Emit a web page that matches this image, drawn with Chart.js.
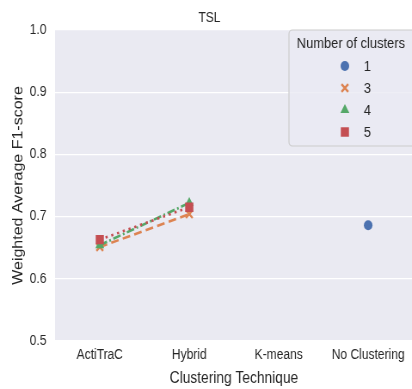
<!DOCTYPE html>
<html>
<head>
<meta charset="utf-8">
<script src="https://cdn.jsdelivr.net/npm/chart.js@4/dist/chart.umd.min.js"></script>
<style>
  html, body { margin: 0; padding: 0; background: #ffffff; overflow: hidden; }
  #wrap { width: 412px; height: 389px; overflow: hidden; }
  /* the figure is drawn a little wider and compressed horizontally */
  #c { transform: scaleX(0.86); transform-origin: 0 0; display: block; }
</style>
</head>
<body>
<div id="wrap"><canvas id="c" width="488" height="389"></canvas></div>
<script>
// Clustering techniques on the x axis
const techniques = ['ActiTraC', 'Hybrid', 'K-means', 'No Clustering'];

// Weighted average F1-score per number of clusters (null = not evaluated)
const clusters1 = [null, null, null, 0.686];
const clusters3 = [0.651, 0.704, null, null];
const clusters4 = [0.654, 0.722, null, null];
const clusters5 = [0.663, 0.715, null, null];

const yTicks = [0.5, 0.6, 0.7, 0.8, 0.9, 1.0];

const FONT = '"Liberation Sans", Arial, sans-serif';
const TEXT = '#262626';

const seriesDefs = [
  { label: '1', data: clusters1, color: '#4c72b0', style: 'circle',   radius: 5,   dash: [],           order: 4 },
  { label: '3', data: clusters3, color: '#dd8452', style: 'crossRot', radius: 5.5, dash: [9, 5],       order: 3 },
  { label: '4', data: clusters4, color: '#55a868', style: 'triangle', radius: 6,   dash: [9, 3, 2, 3], order: 2 },
  { label: '5', data: clusters5, color: '#c44e52', style: 'rect',     radius: 6.7, dash: [2.5, 4.5],   order: 1 }
];

const datasets = seriesDefs.map(s => ({
  label: s.label,
  data: s.data,
  borderColor: s.color,
  backgroundColor: s.color,
  pointBackgroundColor: s.color,
  pointBorderColor: s.color,
  pointStyle: s.style,
  pointRadius: s.radius,
  pointBorderWidth: s.style === 'crossRot' ? 2.4 : 0,
  borderWidth: 2.6,
  borderDash: s.dash,
  spanGaps: false,
  tension: 0,
  order: s.order
}));

// Grey plotting panel
const panelBackground = {
  id: 'panelBackground',
  beforeDraw(chart) {
    const { ctx, chartArea: a } = chart;
    ctx.save();
    ctx.fillStyle = '#eaeaf2';
    ctx.fillRect(a.left, a.top, a.right - a.left, a.bottom - a.top);
    ctx.restore();
  }
};

// Legend box in the upper right corner of the panel
const clusterLegend = {
  id: 'clusterLegend',
  afterDraw(chart) {
    const { ctx, chartArea: a } = chart;
    const x0 = 336, y0 = a.top, w = 160, h = 116;
    ctx.save();
    ctx.beginPath();
    if (ctx.roundRect) ctx.roundRect(x0, y0, w, h, 4); else ctx.rect(x0, y0, w, h);
    ctx.fillStyle = 'rgba(234,234,242,0.8)';
    ctx.fill();
    ctx.strokeStyle = '#cccccc';
    ctx.lineWidth = 1.2;
    ctx.stroke();

    ctx.fillStyle = TEXT;
    ctx.font = '15px ' + FONT;
    ctx.textAlign = 'center';
    ctx.textBaseline = 'middle';
    ctx.fillText('Number of clusters', 408, y0 + 14);

    ctx.textAlign = 'left';
    chart.data.datasets.forEach((ds, i) => {
      const y = y0 + 36 + i * 22;
      ctx.fillStyle = ds.pointBackgroundColor;
      ctx.strokeStyle = ds.pointBorderColor;
      ctx.lineWidth = 2.4;
      ctx.setLineDash([]);
      Chart.helpers.drawPoint(ctx, {
        pointStyle: ds.pointStyle,
        radius: ds.pointRadius,
        borderWidth: ds.pointBorderWidth,
        rotation: 0
      }, 401, y);
      ctx.fillStyle = TEXT;
      ctx.fillText(ds.label, 423, y + 1);
    });
    ctx.restore();
  }
};

new Chart(document.getElementById('c'), {
  type: 'line',
  data: { labels: techniques, datasets },
  options: {
    responsive: false,
    animation: false,
    layout: { padding: { left: 0, right: 1, top: 0, bottom: 0 } },
    plugins: {
      legend: { display: false },
      tooltip: { enabled: false },
      title: {
        display: true,
        text: 'TSL',
        color: TEXT,
        font: { family: FONT, size: 14, weight: 'normal' },
        padding: { top: 10, bottom: 3.2 }
      }
    },
    scales: {
      x: {
        type: 'category',
        offset: true,
        grid: { display: false, drawTicks: false },
        border: { display: false },
        ticks: { color: TEXT, font: { family: FONT, size: 14 }, padding: 6, maxRotation: 0, autoSkip: false },
        title: {
          display: true,
          text: 'Clustering Technique',
          color: TEXT,
          font: { family: FONT, size: 16 },
          padding: { top: 0, bottom: 1 }
        },
        afterFit(scale) { scale.height = 48; }
      },
      y: {
        min: 0.5,
        max: 1.0,
        afterBuildTicks(scale) { scale.ticks = yTicks.map(v => ({ value: v })); },
        grid: { color: '#ffffff', lineWidth: 1.2, drawTicks: false },
        border: { display: false },
        ticks: {
          color: TEXT,
          font: { family: FONT, size: 14 },
          padding: 10,
          callback: v => Number(v).toFixed(1)
        },
        title: {
          display: true,
          text: 'Weighted Average F1-score',
          color: TEXT,
          font: { family: FONT, size: 16 },
          padding: { top: 12, bottom: 0 }
        },
        afterFit(scale) { scale.width = 64; }
      }
    }
  },
  plugins: [panelBackground, clusterLegend]
});
</script>
</body>
</html>
